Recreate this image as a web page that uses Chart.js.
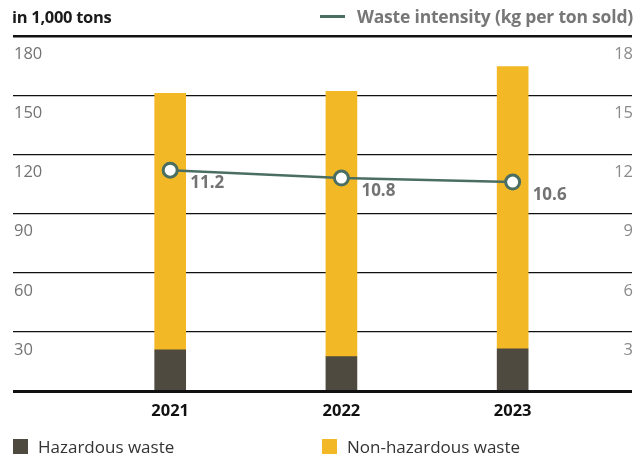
<!DOCTYPE html>
<html>
<head>
<meta charset="utf-8">
<script src="https://cdn.jsdelivr.net/npm/chart.js@4"></script>
<style>
    body { margin: 0; background: #fff; }
    #wrap { position: relative; width: 642px; height: 459px; font-family: "Open Sans", sans-serif; }
    #wrap canvas { position: absolute; left: 0; top: 0; }
    .unit { position: absolute; left: 12px; top: 5px; font-size: 16.5px; font-weight: bold; color: #1a1a1a; letter-spacing: -0.3px; }
    .lineKey { position: absolute; right: 9px; top: 4px; font-size: 17.5px; font-weight: bold; color: #777; letter-spacing: -0.2px; }
    .lineKey i { display: inline-block; width: 25px; height: 3px; background: #4a6e62; vertical-align: middle; margin: -3px 12px 0 0; }
    .key { position: absolute; top: 435px; font-size: 17px; color: #333; }
    .key i { display: inline-block; width: 15px; height: 15px; vertical-align: middle; margin: -3px 10px 0 0; }
</style>
</head>
<body>
<div id="wrap">
    <canvas id="wasteChart" width="642" height="459"></canvas>
    <div class="unit">in 1,000 tons</div>
    <div class="lineKey"><i></i>Waste intensity (kg per ton sold)</div>
    <div class="key" style="left:13px"><i style="background:#4f4a3f"></i>Hazardous waste</div>
    <div class="key" style="left:322px"><i style="background:#f2b826"></i>Non-hazardous waste</div>
</div>
<script>
// Waste volumes in 1,000 tons and intensity in kg per ton sold
const years = [2021, 2022, 2023];
const hazardous = [21, 17.5, 21.5];
const nonHazardous = [130, 134.5, 143];
const intensity = [11.2, 10.8, 10.6];
const leftTicks = [0, 30, 60, 90, 120, 150, 180];
const rightTicks = [0, 3, 6, 9, 12, 15, 18];

const colors = {
    hazardous: "#4f4a3f",
    nonHazardous: "#f2b826",
    intensity: "#4a6e62",
    label: "#737373"
};

// value labels next to the intensity points
const pointLabels = {
    id: "pointLabels",
    afterDatasetsDraw(chart) {
        const meta = chart.getDatasetMeta(2);
        const c = chart.ctx;
        c.save();
        c.font = "bold 17px 'Open Sans'";
        c.fillStyle = colors.label;
        c.textAlign = "left";
        c.textBaseline = "middle";
        meta.data.forEach((pt, i) => {
            c.fillText(intensity[i].toFixed(1), pt.x + 20, pt.y + 13);
        });
        c.restore();
    }
};

const toPoints = arr => years.map((yr, i) => ({ x: yr, y: arr[i] }));

new Chart(document.getElementById("wasteChart"), {
    type: "bar",
    data: {
        datasets: [
            {
                label: "Hazardous waste",
                data: toPoints(hazardous),
                backgroundColor: colors.hazardous,
                barThickness: 31,
                order: 2
            },
            {
                label: "Non-hazardous waste",
                data: toPoints(nonHazardous),
                backgroundColor: colors.nonHazardous,
                barThickness: 31,
                order: 2
            },
            {
                type: "line",
                label: "Waste intensity (kg per ton sold)",
                data: toPoints(intensity),
                yAxisID: "y1",
                borderColor: colors.intensity,
                borderWidth: 2.5,
                pointRadius: 7,
                pointBorderWidth: 3,
                pointBackgroundColor: "#fff",
                pointBorderColor: colors.intensity,
                tension: 0,
                order: 0
            }
        ]
    },
    plugins: [pointLabels],
    options: {
        responsive: false,
        animation: false,
        layout: { padding: { left: 11, right: 7, top: 36, bottom: 28 } },
        plugins: {
            legend: { display: false },
            tooltip: { enabled: false }
        },
        scales: {
            x: {
                type: "linear",
                stacked: true,
                min: 2020.082,
                max: 2023.697,
                offset: false,
                grid: { display: false, drawTicks: false },
                border: { display: false },
                afterBuildTicks: scale => { scale.ticks = years.map(v => ({ value: v })); },
                ticks: {
                    padding: 10,
                    color: "#111",
                    font: { family: "Open Sans", size: 16.5, weight: "bold" },
                    callback: v => String(v)
                }
            },
            y: {
                stacked: true,
                min: 0,
                max: 180,
                afterBuildTicks: scale => { scale.ticks = leftTicks.map(v => ({ value: v })); },
                grid: {
                    drawTicks: false,
                    color: "#111",
                    lineWidth: ctx => ctx.tick.value === 0 ? 3 : (ctx.tick.value === 180 ? 2.5 : 1.3)
                },
                border: { display: false },
                ticks: {
                    mirror: true,
                    padding: 1,
                    labelOffset: 18,
                    color: colors.label,
                    font: { family: "Open Sans", size: 16.5 },
                    callback: v => v === 0 ? "" : v
                }
            },
            y1: {
                position: "right",
                min: 0,
                max: 18,
                afterBuildTicks: scale => { scale.ticks = rightTicks.map(v => ({ value: v })); },
                grid: { display: false, drawTicks: false },
                border: { display: false },
                ticks: {
                    mirror: true,
                    padding: 1,
                    labelOffset: 18,
                    color: "#8a8a8a",
                    font: { family: "Open Sans", size: 16.5 },
                    callback: v => v === 0 ? "" : v
                }
            }
        }
    }
});
</script>
</body>
</html>
